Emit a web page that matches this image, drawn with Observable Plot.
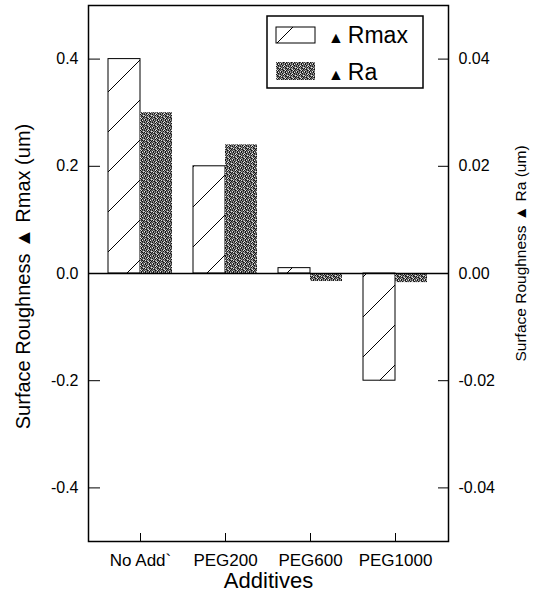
<!DOCTYPE html>
<html><head><meta charset="utf-8">
<script src="https://cdn.jsdelivr.net/npm/d3@7"></script>
<script src="https://cdn.jsdelivr.net/npm/@observablehq/plot@0.6"></script>
<style>body{margin:0;background:#fff} #chart svg{display:block}</style>
</head><body><div id="chart"></div>
<script>
const categories = ["No Add`", "PEG200", "PEG600", "PEG1000"];
const rmaxValues = [0.4, 0.2, 0.01, -0.2];
const raValues = [0.030, 0.024, -0.0015, -0.0017];
const leftTicks = [-0.4, -0.2, 0, 0.2, 0.4];
const rightTicks = [-0.04, -0.02, 0, 0.02, 0.04];
const seriesNames = ["Rmax", "Ra"];
const yLabelLeft = "Surface Roughness \u25B2 Rmax (um)";
const yLabelRight = "Surface Roughness \u25B2 Ra (um)";
const xLabel = "Additives";

const RA_FACTOR = 10; // right axis = left axis / 10

const rmaxData = categories.map((c, i) => ({cat: c, value: rmaxValues[i]}));
const raData = categories.map((c, i) => ({cat: c, value: raValues[i] * RA_FACTOR}));

const W = 538, H = 598, mL = 88, mR = 90, mT = 5, mB = 57;
const plotW = W - mL - mR, plotH = H - mT - mB;
const half = 32;
const FONT = "'Liberation Sans', Arial, sans-serif";

const chart = Plot.plot({
  width: W, height: H, marginLeft: mL, marginRight: mR, marginTop: mT, marginBottom: mB,
  style: {fontFamily: FONT, fontSize: "16px", background: "#fff", color: "#000"},
  x: {domain: categories, paddingInner: 0.247, paddingOuter: 0.241, label: null},
  y: {domain: [-0.5, 0.5], label: null},
  marks: [
    Plot.barY(rmaxData, {x: "cat", y: "value", fill: "url(#hatch)", stroke: "#000", strokeWidth: 1, insetRight: half}),
    Plot.barY(raData, {x: "cat", y: "value", fill: "url(#stipple)", insetLeft: half}),
    Plot.ruleY([0], {stroke: "#000", strokeWidth: 1.5}),
    Plot.tickY(leftTicks, {y: d => d, insetRight: plotW - 12, stroke: "#000"}),
    Plot.tickY(rightTicks, {y: d => d * RA_FACTOR, insetLeft: plotW - 10, stroke: "#000"}),
    Plot.tickX(categories, {x: d => d, insetTop: plotH - 8, stroke: "#000"}),
    Plot.axisY({anchor: "left", ticks: leftTicks, tickSize: 0, tickPadding: 10, tickFormat: d => d.toFixed(1), fontSize: 16, label: null}),
    Plot.axisY({anchor: "right", ticks: rightTicks.map(v => v * RA_FACTOR), tickSize: 0, tickPadding: 10, tickFormat: d => (d / RA_FACTOR).toFixed(2), fontSize: 16, label: null}),
    Plot.axisX({anchor: "bottom", tickSize: 0, tickPadding: 12, fontSize: 17, label: null}),
    Plot.text([yLabelLeft], {frameAnchor: "left", text: d => d, rotate: -90, textAnchor: "middle", lineAnchor: "middle", dx: -65, dy: 3, fontSize: 20}),
    Plot.text([yLabelRight], {frameAnchor: "right", text: d => d, rotate: -90, textAnchor: "middle", lineAnchor: "middle", dx: 73, dy: -20, fontSize: 15.5}),
    Plot.text([xLabel], {frameAnchor: "bottom", text: d => d, dy: 39, lineAnchor: "middle", fontSize: 22}),
    Plot.frame({stroke: "#000", strokeWidth: 1.5})
  ]
});

document.getElementById("chart").appendChild(chart);

// patterns
const svg = d3.select(chart.tagName.toLowerCase() === "svg" ? chart : chart.querySelector("svg"));
const defs = svg.insert("defs", ":first-child");
const hatch = defs.append("pattern").attr("id", "hatch").attr("patternUnits", "userSpaceOnUse")
  .attr("width", 40).attr("height", 40);
hatch.append("rect").attr("width", 40).attr("height", 40).attr("fill", "#fff");
hatch.append("path").attr("d", "M0,40L40,0M-4,4L4,-4M36,44L44,36").attr("stroke", "#000").attr("stroke-width", 1);

const tile = [
  "20312041",
  "13024102",
  "02140312",
  "31203024",
  "04132102",
  "21024130",
  "13201402",
  "40213021"
];
const shades = ["#111", "#444", "#777", "#aaa", "#e6e6e6"];
const stip = defs.append("pattern").attr("id", "stipple").attr("patternUnits", "userSpaceOnUse")
  .attr("width", 8).attr("height", 8);
tile.forEach((row, r) => row.split("").forEach((ch, c) => {
  stip.append("rect").attr("x", c).attr("y", r).attr("width", 1).attr("height", 1).attr("fill", shades[+ch]);
}));

// legend
const lg = svg.append("g").attr("font-family", FONT).attr("text-anchor", "start");
lg.append("rect").attr("x", 267).attr("y", 16).attr("width", 156).attr("height", 72)
  .attr("fill", "#fff").attr("stroke", "#000").attr("stroke-width", 1.5);
lg.append("rect").attr("x", 276).attr("y", 27).attr("width", 39).attr("height", 16)
  .attr("fill", "url(#hatch)").attr("stroke", "#000").attr("stroke-width", 1);
lg.append("rect").attr("x", 276).attr("y", 62).attr("width", 39).attr("height", 18)
  .attr("fill", "url(#stipple)");
[[seriesNames[0], 43], [seriesNames[1], 80]].forEach(([name, yb]) => {
  const t = lg.append("text").attr("x", 328).attr("y", yb).attr("fill", "#000").attr("text-anchor", "start");
  t.append("tspan").attr("font-size", 16).text("\u25B2");
  t.append("tspan").attr("font-size", 23).attr("dx", 4).text(name);
});
</script>
</body></html>
